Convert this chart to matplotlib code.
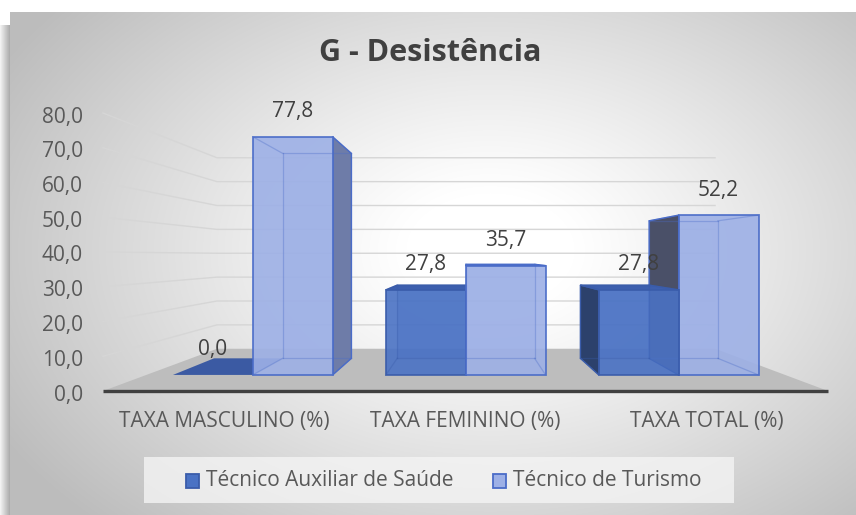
import numpy as np
import matplotlib
matplotlib.use("Agg")
import matplotlib.pyplot as plt
from matplotlib.patches import Polygon, Rectangle

# ---------------- data ----------------
title = "G - Desistência"
categories = ["TAXA MASCULINO (%)", "TAXA FEMININO (%)", "TAXA TOTAL (%)"]
series_names = ["Técnico Auxiliar de Saúde", "Técnico de Turismo"]
saude = [0.0, 27.8, 27.8]
turismo = [77.8, 35.7, 52.2]
yticks = [0, 10, 20, 30, 40, 50, 60, 70, 80]
ytick_labels = ["0,0", "10,0", "20,0", "30,0", "40,0", "50,0", "60,0", "70,0", "80,0"]

def fmt(v):
    return f"{v:.1f}".replace(".", ",")

# ---------------- geometry (pixel space, simple perspective) ----------------
W, H = 856, 515
VPX, VPY = 467.0, 256.0      # vanishing point
Y0, PPU = 391.0, 3.475       # value 0 and pixels per unit on the front plane
X_LEFT, CAT_W = 103.0, 241.7
GAP, BAR_W = 0.125, 0.375
S_FLOOR, S_FRONT, S_BACK, S_WALL = 1.0, 0.881, 0.758, 0.687

def P(X, v, s):
    Yf = Y0 - v * PPU
    return (VPX + s * (X - VPX), VPY + s * (Yf - VPY))

fig = plt.figure(figsize=(W / 100, H / 100), dpi=100)
ax = fig.add_axes([0, 0, 1, 1])
ax.set_xlim(0, W)
ax.set_ylim(H, 0)
ax.axis("off")

FONT = "Open Sans"
TXT = "#595959"

# ---------------- background ----------------
yy, xx = np.mgrid[0:H, 0:W]
d = np.sqrt(((xx - 490) / 560.0) ** 2 + ((yy - 250) / 380.0) ** 2)
g = 1.0 - 0.26 * np.clip((d - 0.15) / 0.85, 0, 1) ** 1.1
bg = np.dstack([g, g, g])
bg[:12, :, :] = 1.0
for i in range(10):
    bg[25:, i, :] = 0.95 - 0.03 * i
bg[12:25, :10, :] = 1.0
ax.imshow(bg, extent=(0, W, H, 0), zorder=0, aspect="auto", interpolation="bilinear")

# ---------------- floor ----------------
X_RIGHT = X_LEFT + CAT_W * len(categories)
floor = [P(X_LEFT, 0, S_FLOOR), P(X_RIGHT, 0, S_FLOOR), P(X_RIGHT, 0, S_WALL), P(X_LEFT, 0, S_WALL)]
ax.add_patch(Polygon(floor, closed=True, facecolor="#bdbdbd", edgecolor="none", zorder=1))

# ---------------- gridlines ----------------
for v in yticks[1:]:
    a = P(X_LEFT, v, S_FLOOR)
    b = P(X_LEFT, v, S_WALL)
    c = P(X_RIGHT, v, S_WALL)
    ax.plot([a[0], b[0], c[0]], [a[1], b[1], c[1]], color="#d6d6d6", lw=1.0, zorder=1)

# front axis line
fl, fr = P(X_LEFT, 0, S_FLOOR), P(X_RIGHT, 0, S_FLOOR)
ax.plot([fl[0], fr[0]], [fl[1], fr[1]], color="#404040", lw=2.4, zorder=2, solid_capstyle="butt")

# tick labels
for v, lab in zip(yticks, ytick_labels):
    x, y = P(X_LEFT, v, S_FLOOR)
    ax.text(83, y + 4, lab, ha="right", va="center", fontsize=15, color=TXT, family=FONT)

# category labels
for i, c in enumerate(categories):
    xc = X_LEFT + CAT_W * (i + 0.5)
    ax.text(xc, 422, c, ha="center", va="center", fontsize=15, color=TXT, family=FONT)

# ---------------- bars ----------------
styles = [
    dict(front="#4a72c4", edge="#3a5caa", left="#2c416c", right="#2f4a86", top="#3d5fae", flat="#3b5aa3"),
    dict(front="#9db0e6", edge="#4a6cc8", left="#4a5068", right="#6e7ca8", top="#8396d0", flat="#7f92cc"),
]
bars = []
for i in range(len(categories)):
    for j, vals in enumerate([saude, turismo]):
        X0 = X_LEFT + CAT_W * (i + GAP + j * BAR_W)
        X1 = X0 + CAT_W * BAR_W
        bars.append((X0, X1, vals[i], j))

# paint from farthest-from-vanishing-point to nearest
bars.sort(key=lambda b: -abs((b[0] + b[1]) / 2 - VPX))
z = 3
for X0, X1, v, j in bars:
    st = styles[j]
    FBL, FBR, FTR, FTL = P(X0, 0, S_FRONT), P(X1, 0, S_FRONT), P(X1, v, S_FRONT), P(X0, v, S_FRONT)
    BBL, BBR, BTR, BTL = P(X0, 0, S_BACK), P(X1, 0, S_BACK), P(X1, v, S_BACK), P(X0, v, S_BACK)
    if v == 0:
        ax.add_patch(Polygon([FBL, FBR, BBR, BBL], closed=True, facecolor=st["flat"],
                             edgecolor="none", zorder=z))
        z += 1
    else:
        ax.add_patch(Polygon([BBL, BBR, BTR, BTL], closed=True, facecolor=st["front"], alpha=0.35,
                             edgecolor="none", zorder=z))
        z += 1
        if FBR[0] < VPX:
            ax.add_patch(Polygon([FBR, BBR, BTR, FTR], closed=True, facecolor=st["right"],
                                 edgecolor=st["edge"], lw=1.0, zorder=z))
        if FBL[0] > VPX:
            ax.add_patch(Polygon([FBL, BBL, BTL, FTL], closed=True, facecolor=st["left"],
                                 edgecolor=st["edge"], lw=1.0, zorder=z))
        if FTL[1] > VPY:
            ax.add_patch(Polygon([FTL, FTR, BTR, BTL], closed=True, facecolor=st["top"],
                                 edgecolor=st["edge"], lw=1.0, zorder=z))
        z += 1
        ax.add_patch(Polygon([FBL, FBR, FTR, FTL], closed=True, facecolor=st["front"], alpha=0.9,
                             edgecolor=st["edge"], lw=1.3, zorder=z))
        z += 1
        for a, b in [(BBL, BBR), (BBR, BTR), (BTR, BTL), (BTL, BBL), (FBL, BBL), (FBR, BBR), (FTL, BTL), (FTR, BTR)]:
            ax.plot([a[0], b[0]], [a[1], b[1]], color=st["edge"], lw=0.9, alpha=0.35, zorder=z)
        z += 1
    lx = (FTL[0] + FTR[0]) / 2
    ax.text(lx, FTL[1] - 25, fmt(v), ha="center", va="center", fontsize=15, color="#404040",
            family=FONT, zorder=50)

# ---------------- title ----------------
ax.text(430, 53, title, ha="center", va="center", fontsize=22, fontweight="bold",
        color="#404040", family=FONT, zorder=50)

# ---------------- legend ----------------
ax.add_patch(Rectangle((144, 457), 590, 46, facecolor="#f4f4f4", alpha=0.8, edgecolor="none", zorder=40))
leg_x = [186, 493]
for k, name in enumerate(series_names):
    st = styles[k]
    ax.add_patch(Rectangle((leg_x[k], 474), 13.5, 13.5, facecolor=st["front"], edgecolor=st["edge"],
                           lw=1.3, zorder=41))
    ax.text(leg_x[k] + 20, 481, name, ha="left", va="center", fontsize=15, color=TXT,
            family=FONT, zorder=41)

fig.savefig("out.png", dpi=100)
